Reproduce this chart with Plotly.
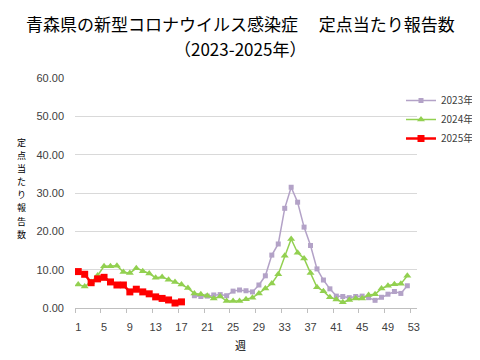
import plotly.graph_objects as go

weeks = list(range(1, 54))
tick_weeks = list(range(1, 54, 4))

y2023 = [None] * 18 + [3.2, 3.0, 3.1, 3.4, 3.5, 3.2, 4.4, 4.7, 4.5, 4.2, 6.0, 8.4,
                       13.8, 16.7, 26.0, 31.5, 27.6, 21.1, 16.3, 10.2, 7.3, 5.0, 3.1,
                       3.0, 2.7, 3.0, 3.1, 2.7, 2.0, 2.8, 3.6, 4.3, 3.8, 5.8]
y2024 = [6.1, 5.6, 6.8, 8.5, 10.9, 10.9, 11.0, 9.4, 9.1, 10.4, 9.6, 9.0, 7.9, 8.1,
         7.4, 6.8, 6.1, 5.2, 3.8, 3.6, 3.2, 2.5, 3.0, 1.8, 1.8, 1.8, 2.3, 2.7, 3.8,
         5.1, 6.4, 8.8, 13.6, 18.0, 14.4, 12.9, 9.1, 5.4, 4.4, 2.8, 2.2, 1.5, 2.1,
         2.5, 2.5, 3.4, 3.6, 5.1, 5.8, 6.2, 6.3, 8.4]
y2025 = [9.5, 8.8, 6.6, 7.6, 8.0, 6.8, 6.0, 6.0, 4.2, 4.9, 4.2, 3.7, 2.9, 2.5, 2.1,
         1.3, 1.6]

title_line1 = "青森県の新型コロナウイルス感染症　 定点当たり報告数"
title_line2 = "（2023-2025年）"
y_title = "定点当たり報告数"
x_title = "週"

# figure geometry (page body adds an 8px offset)
W, H = 472, 352
ML, MR, MT, MB = 67, 63, 70, 52
PW, PH = W - ML - MR, H - MT - MB


def px_x(x):
    return (x - ML) / PW


def px_y(y):
    return (H - MB - y) / PH


fig = go.Figure()
fig.add_trace(go.Scatter(x=weeks[:len(y2023)], y=y2023, name="2023年", mode="lines+markers",
                         line=dict(color="#b3a2c7", width=1.5),
                         marker=dict(symbol="square", size=5, color="#b3a2c7")))
fig.add_trace(go.Scatter(x=weeks[:len(y2024)], y=y2024, name="2024年", mode="lines+markers",
                         line=dict(color="#92d050", width=1.5),
                         marker=dict(symbol="triangle-up", size=7, color="#92d050")))
fig.add_trace(go.Scatter(x=weeks[:len(y2025)], y=y2025, name="2025年", mode="lines+markers",
                         line=dict(color="#ff0000", width=2.5),
                         marker=dict(symbol="square", size=7, color="#ff0000")))

tick_font = dict(family="Liberation Sans, Arial, sans-serif", size=11, color="#404040")
jp = "Noto Sans CJK JP, sans-serif"

annotations = [
    dict(text=title_line1, xref="paper", yref="paper", x=px_x(232), y=px_y(15.5),
         xanchor="center", yanchor="middle", showarrow=False,
         font=dict(family=jp, size=17, color="black")),
    dict(text=title_line2, xref="paper", yref="paper", x=px_x(232), y=px_y(40.7),
         xanchor="center", yanchor="middle", showarrow=False,
         font=dict(family=jp, size=17, color="black")),
    dict(text=x_title, xref="paper", yref="paper", x=px_x(232), y=px_y(337),
         xanchor="center", yanchor="middle", showarrow=False,
         font=dict(family=jp, size=11, color="black")),
]
step = 13.1
start = 180.3 - step * (len(y_title) - 1) / 2
for i, ch in enumerate(y_title):
    annotations.append(dict(text=ch, xref="paper", yref="paper", x=px_x(13.5),
                            y=px_y(start + step * i), xanchor="center", yanchor="middle",
                            showarrow=False, font=dict(family=jp, size=9, color="black")))

fig.update_layout(
    width=W, height=H,
    margin=dict(l=ML, r=MR, t=MT, b=MB, pad=0, autoexpand=False),
    plot_bgcolor="white", paper_bgcolor="white",
    xaxis=dict(range=[0.5, 53.5], tickmode="array", tickvals=tick_weeks,
               ticktext=[str(w) for w in tick_weeks], ticks="",
               showgrid=False, showline=True, linecolor="#bfbfbf", linewidth=1,
               tickfont=tick_font, ticklabelstandoff=9, zeroline=False,
               minor=dict(tickmode="array", tickvals=[w - 0.5 for w in tick_weeks],
                          ticks="outside", ticklen=4, tickcolor="#bfbfbf", showgrid=False)),
    yaxis=dict(range=[0, 60], tickmode="array", tickvals=[0, 10, 20, 30, 40, 50, 60],
               tickformat=".2f", showgrid=True, gridcolor="#d9d9d9", gridwidth=1,
               zeroline=False, showline=False, tickfont=tick_font, ticklabelstandoff=10),
    legend=dict(x=px_x(393), xanchor="left", y=px_y(78), yanchor="top",
                font=dict(family=jp, size=10, color="#404040"),
                itemwidth=30, bgcolor="rgba(0,0,0,0)", tracegroupgap=0),
    showlegend=True,
    annotations=annotations,
)

fig.write_html("out.html")
